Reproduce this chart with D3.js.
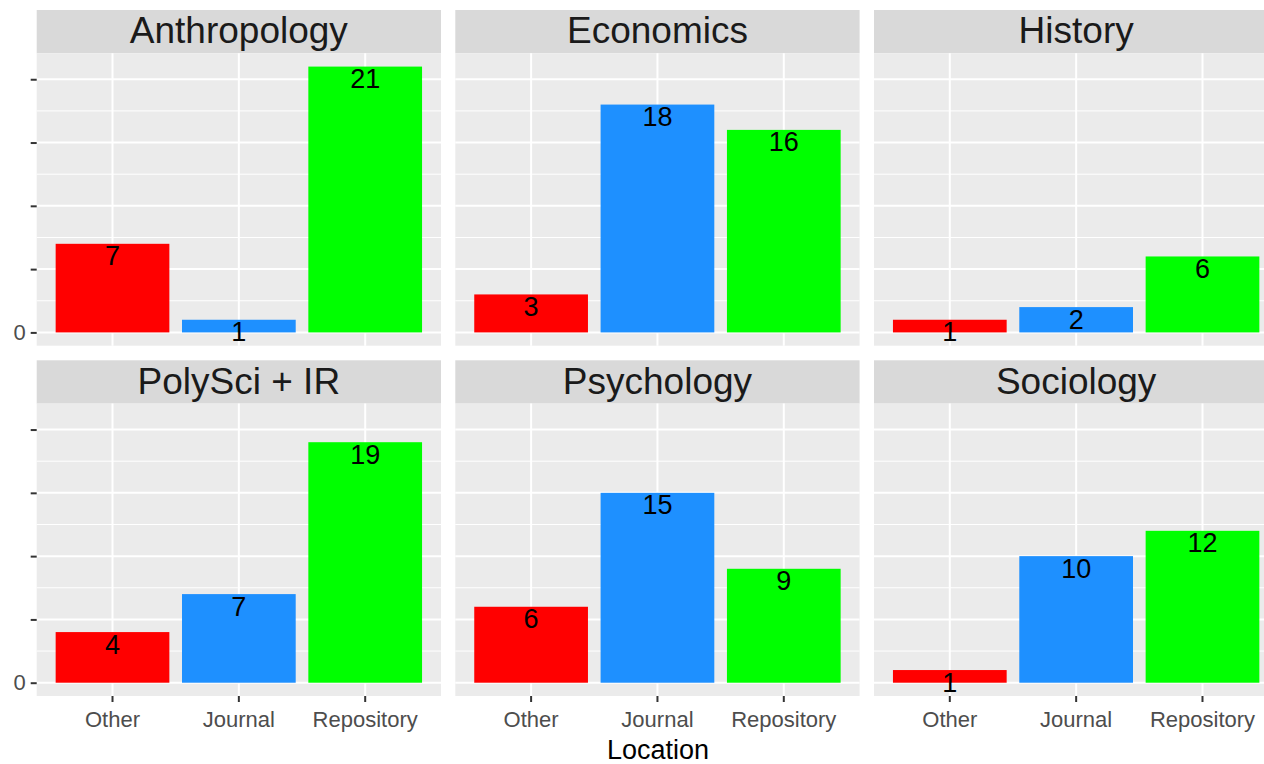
<!DOCTYPE html>
<html>
<head>
<meta charset="utf-8">
<script src="https://cdn.jsdelivr.net/npm/d3@7"></script>
<style>
  html, body { margin: 0; padding: 0; background: #ffffff; overflow: hidden; }
  svg { display: block; font-family: "Liberation Sans", Arial, Helvetica, sans-serif; }
</style>
</head>
<body>
<svg id="chart" width="1264" height="764"></svg>
<script>
// ---- data ----
const departments = ["Anthropology", "Economics", "History", "PolySci + IR", "Psychology", "Sociology"];
const locations = ["Other", "Journal", "Repository"];
const otherCounts = [7, 3, 1, 4, 6, 1];
const journalCounts = [1, 18, 2, 7, 15, 10];
const repositoryCounts = [21, 16, 6, 19, 9, 12];
const locationColors = ["#FF0000", "#1E90FF", "#00FF00"];
const yMajorTicks = [0, 5, 10, 15, 20];
const yTickLabels = ["0", "", "", "", ""];
const yMinorTicks = [2.5, 7.5, 12.5, 17.5];
const xTitle = "Location";

// ---- layout ----
const svg = d3.select("#chart");
const colLeft = [36.7, 455.3, 874];
const panelW = 404.3;
const rowTop = [10, 360.3];
const stripH = 43.3;
const panelH = 292.4;
const nCols = 3;

const seriesByLoc = [otherCounts, journalCounts, repositoryCounts];
const yMax = d3.max([].concat(otherCounts, journalCounts, repositoryCounts));
const yExp = yMax * 0.05;

const x = d3.scaleBand().domain(locations).range([0, panelW]).paddingInner(0.1).paddingOuter(0.15);
const y = d3.scaleLinear().domain([-yExp, yMax + yExp]).range([panelH, 0]);
const color = d3.scaleOrdinal().domain(locations).range(locationColors);

departments.forEach((dep, i) => {
  const r = Math.floor(i / nCols), c = i % nCols;
  const px = colLeft[c], sy = rowTop[r], py = sy + stripH;

  // strip
  const strip = svg.append("g").attr("transform", `translate(${px},${sy})`);
  strip.append("rect").attr("width", panelW).attr("height", stripH).attr("fill", "#D9D9D9");
  strip.append("text").attr("x", panelW / 2).attr("y", 33.3)
    .attr("text-anchor", "middle").attr("font-size", 37).attr("fill", "#1A1A1A").text(dep);

  const g = svg.append("g").attr("transform", `translate(${px},${py})`);
  g.append("rect").attr("width", panelW).attr("height", panelH).attr("fill", "#EBEBEB");

  // grid
  g.selectAll(".minor").data(yMinorTicks).join("line")
    .attr("x1", 0).attr("x2", panelW).attr("y1", d => y(d)).attr("y2", d => y(d))
    .attr("stroke", "#FFFFFF").attr("stroke-width", 1);
  g.selectAll(".major").data(yMajorTicks).join("line")
    .attr("x1", 0).attr("x2", panelW).attr("y1", d => y(d)).attr("y2", d => y(d))
    .attr("stroke", "#FFFFFF").attr("stroke-width", 2);
  g.selectAll(".vmajor").data(locations).join("line")
    .attr("x1", d => x(d) + x.bandwidth() / 2).attr("x2", d => x(d) + x.bandwidth() / 2)
    .attr("y1", 0).attr("y2", panelH)
    .attr("stroke", "#FFFFFF").attr("stroke-width", 2);

  // bars
  const rows = locations.map((loc, k) => ({ loc, v: seriesByLoc[k][i] }));
  g.selectAll(".bar").data(rows).join("rect")
    .attr("x", d => x(d.loc)).attr("width", x.bandwidth())
    .attr("y", d => y(d.v)).attr("height", d => y(0) - y(d.v))
    .attr("fill", d => color(d.loc));
  g.selectAll(".lab").data(rows).join("text")
    .attr("x", d => x(d.loc) + x.bandwidth() / 2).attr("y", d => y(d.v) + 21.5)
    .attr("text-anchor", "middle").attr("font-size", 27).attr("fill", "#000000")
    .text(d => d.v);

  // y axis on left column
  if (c === 0) {
    const ya = g.append("g").call(
      d3.axisLeft(y).tickValues(yMajorTicks).tickSize(6).tickPadding(5)
        .tickFormat((d, k) => yTickLabels[k]));
    ya.select(".domain").remove();
    ya.selectAll(".tick line").attr("stroke", "#333333").attr("stroke-width", 2);
    ya.selectAll(".tick text").attr("font-size", 22).attr("fill", "#4D4D4D")
      .attr("font-family", "Liberation Sans, Arial, sans-serif");
  }
  // x axis on bottom row
  if (r === 1) {
    const xa = g.append("g").attr("transform", `translate(0,${panelH})`).call(
      d3.axisBottom(x).tickSize(6).tickPadding(5));
    xa.select(".domain").remove();
    xa.selectAll(".tick line").attr("stroke", "#333333").attr("stroke-width", 2);
    xa.selectAll(".tick text").attr("font-size", 22).attr("fill", "#4D4D4D")
      .attr("font-family", "Liberation Sans, Arial, sans-serif")
      .attr("dy", "0.71em").attr("y", 15);
  }
});

svg.append("text").attr("x", 658).attr("y", 759).attr("text-anchor", "middle")
  .attr("font-size", 27).attr("fill", "#000000").text(xTitle);
</script>
</body>
</html>
